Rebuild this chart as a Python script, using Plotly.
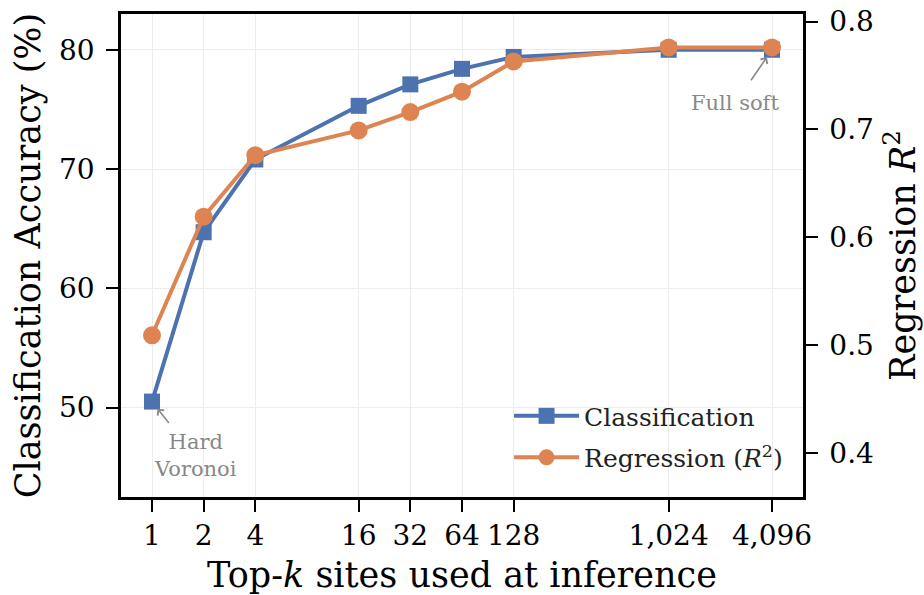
import math
import plotly.graph_objects as go

# ---- data ----
k_values = [1, 2, 4, 16, 32, 64, 128, 1024, 4096]
k_tick_labels = ["1", "2", "4", "16", "32", "64", "128", "1,024", "4,096"]
classification_acc = [50.5, 64.7, 70.8, 75.3, 77.1, 78.4, 79.4, 80.0, 80.0]
regression_r2 = [0.509, 0.619, 0.676, 0.699, 0.716, 0.735, 0.763, 0.776, 0.776]
acc_ticks = [50, 60, 70, 80]
r2_ticks = [0.4, 0.5, 0.6, 0.7, 0.8]
r2_tick_labels = ["0.4", "0.5", "0.6", "0.7", "0.8"]

BLUE = "#4C72B0"
ORANGE = "#DD8452"
FONT = "DejaVu Serif"

fig = go.Figure()
fig.add_trace(go.Scatter(
    x=k_values, y=classification_acc, mode="lines+markers", name="Classification",
    line=dict(color=BLUE, width=4),
    marker=dict(symbol="square", size=16, color=BLUE),
    yaxis="y", legendgroup="a",
))
fig.add_trace(go.Scatter(
    x=k_values, y=regression_r2, mode="lines+markers",
    name="Regression (<i>R</i><sup>2</sup>)",
    line=dict(color=ORANGE, width=4),
    marker=dict(symbol="circle", size=18, color=ORANGE),
    yaxis="y2", legendgroup="b",
))

axis_common = dict(
    ticks="outside", ticklen=12, tickwidth=2, tickcolor="black",
    showline=True, linewidth=2.5, linecolor="black",
    tickfont=dict(family=FONT, size=28, color="black"),
    zeroline=False, automargin=False,
)

fig.update_layout(
    width=924, height=595,
    margin=dict(l=121, r=121, t=14, b=98),
    plot_bgcolor="white", paper_bgcolor="white",
    font=dict(family=FONT, color="black"),
    showlegend=True,
    legend=dict(
        x=0.569, y=0.035, xanchor="left", yanchor="bottom",
        bgcolor="rgba(0,0,0,0)", font=dict(family=FONT, size=25, color="#222"),
        tracegroupgap=6, itemwidth=65,
    ),
    xaxis=dict(
        type="log",
        range=[math.log10(2 ** -0.6), math.log10(2 ** 12.6)],
        tickvals=k_values, ticktext=k_tick_labels,
        mirror=True, showgrid=True, gridcolor="#ececec", gridwidth=1,
        title=dict(text="Top-<i>k</i> sites used at inference",
                   font=dict(family=FONT, size=35, color="black"), standoff=14),
        **axis_common,
    ),
    yaxis=dict(
        range=[42.5, 83.0], tickvals=acc_ticks,
        mirror=True, showgrid=True, gridcolor="#ececec", gridwidth=1,
        ticklabelstandoff=6,
        title=dict(text="Classification Accuracy (%)",
                   font=dict(family=FONT, size=35, color="black"), standoff=8),
        **axis_common,
    ),
    yaxis2=dict(
        range=[0.359, 0.807], tickvals=r2_ticks, ticktext=r2_tick_labels,
        overlaying="y", side="right", showgrid=False,
        ticklabelstandoff=6,
        title=dict(text="Regression <i>R</i><sup>2</sup>",
                   font=dict(family=FONT, size=35, color="black"), standoff=18),
        **axis_common,
    ),
)

GRAY = "#888888"
# arrows
fig.add_annotation(
    x=math.log10(k_values[-1]), y=classification_acc[-1], xref="x", yref="y",
    text="", showarrow=True, arrowhead=4, arrowsize=1, arrowwidth=1.6,
    arrowcolor=GRAY, ax=-22, ay=32, standoff=9,
)
fig.add_annotation(
    x=math.log10(k_values[0]), y=classification_acc[0], xref="x", yref="y",
    text="", showarrow=True, arrowhead=4, arrowsize=1, arrowwidth=1.6,
    arrowcolor=GRAY, ax=18, ay=23, standoff=9,
)
# labels
fig.add_annotation(
    x=math.log10(2 ** 11.29), y=75.56, xref="x", yref="y",
    text="Full soft", showarrow=False,
    font=dict(family=FONT, size=21, color=GRAY),
)
fig.add_annotation(
    x=math.log10(2 ** 0.84), y=46.0, xref="x", yref="y",
    text="Hard<br>Voronoi", showarrow=False,
    font=dict(family=FONT, size=21, color=GRAY),
)

fig.write_html(
    "out.html",
    config={"displayModeBar": False},
    post_script="document.body.style.margin='0';document.body.style.overflow='hidden';",
)
